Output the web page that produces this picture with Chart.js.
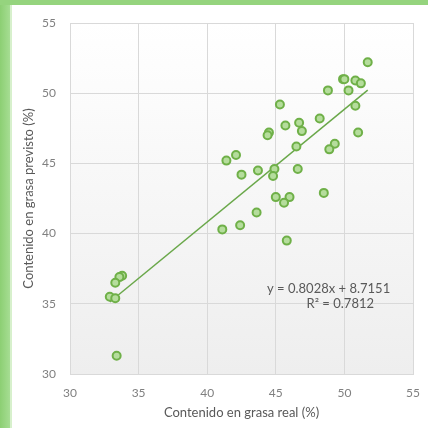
<!DOCTYPE html>
<html>
<head>
<meta charset="utf-8">
<script src="https://cdn.jsdelivr.net/npm/chart.js@4.4.0/dist/chart.umd.min.js"></script>
<style>
    html, body { margin: 0; padding: 0; background: #ffffff; }
    #wrap { width: 428px; height: 428px; position: relative; }
</style>
</head>
<body>
<div id="wrap"><canvas id="g_grasa"></canvas></div>
<script>
// datos
let real = [51.7, 49.9, 50.0, 50.8, 51.2, 48.8, 50.3, 45.3, 50.8, 48.2, 46.7, 45.7, 46.9, 51.0, 44.5, 44.4,
            46.5, 49.3, 48.9, 42.1, 41.4, 43.7, 44.9, 42.5, 46.6, 44.8, 48.5, 45.0, 46.0, 45.6, 43.6, 41.1,
            42.4, 45.8, 33.8, 33.6, 33.3, 32.9, 33.3, 33.4];
let previsto = [52.2, 51.0, 51.0, 50.9, 50.7, 50.2, 50.2, 49.2, 49.1, 48.2, 47.9, 47.7, 47.3, 47.2, 47.2, 47.0,
                46.2, 46.4, 46.0, 45.6, 45.2, 44.5, 44.6, 44.2, 44.6, 44.1, 42.9, 42.6, 42.6, 42.2, 41.5, 40.3,
                40.6, 39.5, 37.0, 36.9, 36.5, 35.5, 35.4, 31.3];
let pendiente = 0.8028;
let ordenada = 8.7151;
let r2 = 0.7812;
let ticks_eje = [30, 35, 40, 45, 50, 55];

let puntos = [];
for(let i = 0; i < real.length; i++){
    puntos.push({x: real[i], y: previsto[i]});
}
let x_min = Math.min(...real);
let x_max = Math.max(...real);
let tendencia = [
    {x: x_min, y: pendiente * x_min + ordenada},
    {x: x_max, y: pendiente * x_max + ordenada}
];

let fuente = "Lato, 'Open Sans', sans-serif";

let fondo = {
    id: "fondo",
    beforeDraw: function(chart){
        let c = chart.ctx;
        let a = chart.chartArea;
        c.save();
        // borde verde
        let gl = c.createLinearGradient(0, 0, 10, 0);
        gl.addColorStop(0, "#8ccf73");
        gl.addColorStop(1, "#a6dd93");
        c.fillStyle = gl;
        c.fillRect(0, 0, 10, chart.height);
        c.fillStyle = "#d7f0cc";
        c.fillRect(10, 5, 2, chart.height);
        c.fillStyle = "#95d47e";
        c.fillRect(0, 0, chart.width, 5);
        // area del grafico
        let gp = c.createLinearGradient(0, a.top, 0, a.bottom);
        gp.addColorStop(0, "#ffffff");
        gp.addColorStop(1, "#eeeeee");
        c.fillStyle = gp;
        c.fillRect(a.left, a.top, a.right - a.left, a.bottom - a.top);
        c.restore();
    },
    afterDatasetsDraw: function(chart){
        let c = chart.ctx;
        let sx = chart.scales.x;
        let sy = chart.scales.y;
        c.save();
        c.fillStyle = "#595959";
        c.font = "13px " + fuente;
        c.textAlign = "center";
        c.textBaseline = "middle";
        c.fillText("y = " + pendiente.toFixed(4) + "x + " + ordenada.toFixed(4), sx.getPixelForValue(48.85), sy.getPixelForValue(36.1));
        c.fillText("R\u00b2 = " + r2.toFixed(4), sx.getPixelForValue(49.7), sy.getPixelForValue(35.0));
        c.restore();
    }
};

let ctx = document.getElementById("g_grasa").getContext("2d");
let g = new Chart(ctx, {
    type: "scatter",
    data: {
        datasets: [
            {
                label: "Contenido",
                data: puntos,
                pointRadius: 4,
                pointHoverRadius: 4,
                pointBorderWidth: 2,
                borderColor: "#6fb048",
                backgroundColor: "#b5dd9c",
                order: 1
            },
            {
                label: "Lineal",
                type: "line",
                data: tendencia,
                borderColor: "#6aa84a",
                borderWidth: 1.5,
                pointRadius: 0,
                fill: false,
                order: 2
            }
        ]
    },
    options: {
        responsive: true,
        maintainAspectRatio: false,
        animation: false,
        events: [],
        layout: {
            autoPadding: false,
            padding: { left: 15, right: 15, top: 23, bottom: 0 }
        },
        plugins: {
            legend: { display: false },
            tooltip: { enabled: false }
        },
        scales: {
            x: {
                type: "linear",
                min: 30,
                max: 55,
                afterBuildTicks: function(s){ s.ticks = ticks_eje.map(v => ({value: v})); },
                afterFit: function(s){
                    s.height = 54;
                    s.paddingLeft = 0;
                    s.paddingRight = 0;
                },
                grid: { color: "#d9d9d9", lineWidth: 1, drawTicks: false },
                border: { color: "#d9d9d9" },
                ticks: {
                    color: "#808080",
                    padding: 12,
                    maxRotation: 0,
                    font: { family: fuente, size: 12 }
                },
                title: {
                    display: true,
                    text: "Contenido en grasa real (%)",
                    color: "#595959",
                    padding: { top: 4, bottom: 7 },
                    font: { family: fuente, size: 13 }
                }
            },
            y: {
                type: "linear",
                min: 30,
                max: 55,
                afterBuildTicks: function(s){ s.ticks = ticks_eje.map(v => ({value: v})); },
                afterFit: function(s){
                    s.width = 55;
                    s.paddingTop = 0;
                    s.paddingBottom = 0;
                },
                grid: { color: "#d9d9d9", lineWidth: 1, drawTicks: false },
                border: { color: "#d9d9d9" },
                ticks: {
                    color: "#808080",
                    padding: 14,
                    font: { family: fuente, size: 12 }
                },
                title: {
                    display: true,
                    text: "Contenido en grasa previsto (%)",
                    color: "#595959",
                    padding: { top: 6, bottom: 4 },
                    font: { family: fuente, size: 13 }
                }
            }
        }
    },
    plugins: [fondo]
});
</script>
</body>
</html>
